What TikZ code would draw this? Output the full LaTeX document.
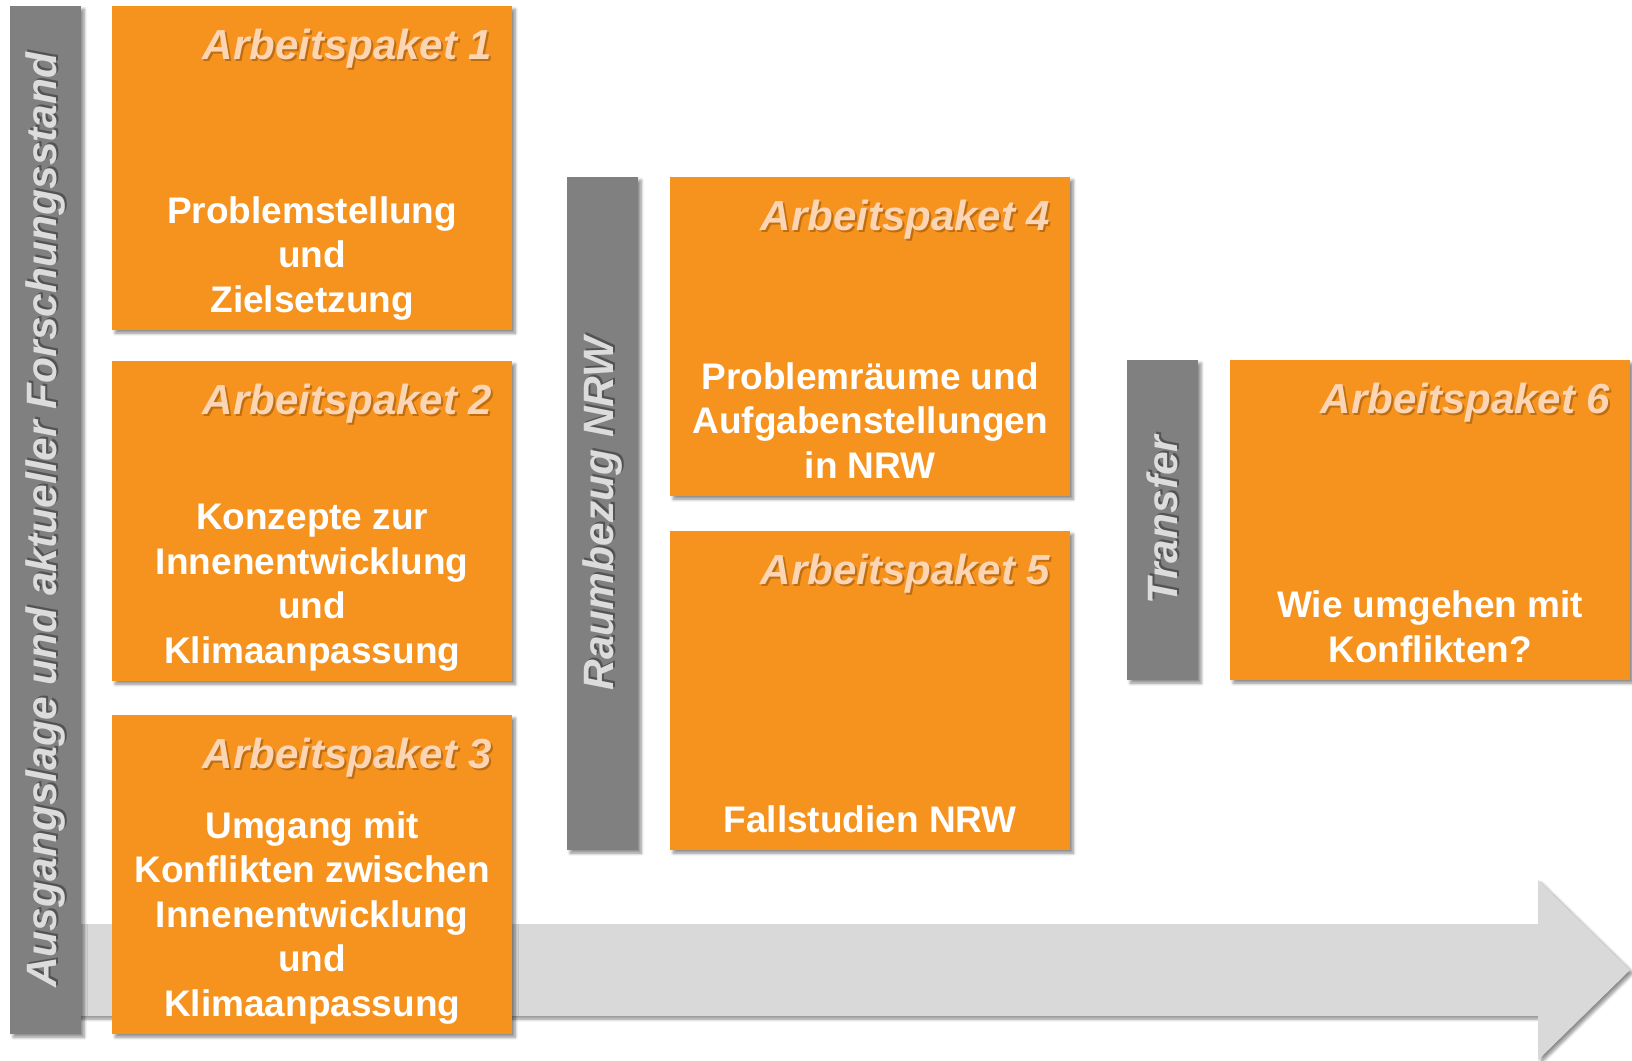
\documentclass[tikz,border=0pt]{standalone}
\usepackage{fontspec}
\setmainfont{Liberation Sans}
\usetikzlibrary{shadows.blur}
\definecolor{apor}{HTML}{F6921E}
\definecolor{bargrey}{HTML}{808080}
\definecolor{arrowgrey}{HTML}{D9D9D9}
\definecolor{ttlcol}{HTML}{FCD6B4}
\definecolor{vtxt}{HTML}{DCDCDC}
\definecolor{shadowbrown}{HTML}{7A4200}
\begin{document}
\begin{tikzpicture}[x=1pt,y=-1pt,
  shad/.style={blur shadow={shadow xshift=3pt,shadow yshift=-3pt,shadow blur steps=6,shadow blur radius=3pt,shadow opacity=45}},
  apbox/.style={fill=apor,anchor=north west,inner sep=0pt,minimum width=400pt,shad},
  barbox/.style={fill=bargrey,anchor=north west,inner sep=0pt,minimum width=71pt,shad},
  ttl/.style={anchor=base east,inner sep=0pt,text=ttlcol,font=\bfseries\itshape\fontsize{42}{50}\selectfont,xshift=-20pt,yshift=-53pt},
  ttlsh/.style={ttl,text=shadowbrown,opacity=0.45,xshift=2pt,yshift=-2pt},
  body/.style={anchor=south,align=center,inner sep=0pt,text=white,text depth=8pt,font=\bfseries\fontsize{37}{44.5}\selectfont,yshift=10pt},
  vlab/.style={rotate=90,inner sep=0pt,text=vtxt,font=\bfseries\itshape\fontsize{42.5}{50}\selectfont},
  vlabsh/.style={vlab,text=black,opacity=0.35,xshift=2pt,yshift=-2pt}]
\useasboundingbox (0,0) rectangle (1632,1060);
% big arrow
\fill[arrowgrey,shad] (60,924) -- (1538,924) -- (1538,880) -- (1630,970) -- (1538,1060) -- (1538,1016) -- (60,1016) -- cycle;
% grey bars
\node[barbox,minimum height=1028pt] (g1) at (10,6) {};
\node[barbox,minimum height=673pt] (g2) at (567,177) {};
\node[barbox,minimum height=320pt] (g3) at (1127,360) {};
\node[vlabsh] (g1s) at (g1.center) {Ausgangslage und aktueller Forschungsstand};
\node[vlab] (g1t) at (g1.center) {Ausgangslage und aktueller Forschungsstand};
\node[vlabsh] (g2s) at (g2.center) {Raumbezug NRW};
\node[vlab] (g2t) at (g2.center) {Raumbezug NRW};
\node[vlabsh] (g3s) at (g3.center) {Transfer};
\node[vlab] (g3t) at (g3.center) {Transfer};
% work packages
\node[apbox,minimum height=324pt] (ap1) at (112,6) {};
\node[apbox,minimum height=320pt] (ap2) at (112,361) {};
\node[apbox,minimum height=319pt] (ap3) at (112,715) {};
\node[apbox,minimum height=319pt] (ap4) at (670,177) {};
\node[apbox,minimum height=319pt] (ap5) at (670,531) {};
\node[apbox,minimum height=320pt] (ap6) at (1230,360) {};
% titles
\node[ttlsh] (t1s) at (ap1.north east) {Arbeitspaket 1};
\node[ttl] (t1) at (ap1.north east) {Arbeitspaket 1};
\node[ttlsh] (t2s) at (ap2.north east) {Arbeitspaket 2};
\node[ttl] (t2) at (ap2.north east) {Arbeitspaket 2};
\node[ttlsh] (t3s) at (ap3.north east) {Arbeitspaket 3};
\node[ttl] (t3) at (ap3.north east) {Arbeitspaket 3};
\node[ttlsh] (t4s) at (ap4.north east) {Arbeitspaket 4};
\node[ttl] (t4) at (ap4.north east) {Arbeitspaket 4};
\node[ttlsh] (t5s) at (ap5.north east) {Arbeitspaket 5};
\node[ttl] (t5) at (ap5.north east) {Arbeitspaket 5};
\node[ttlsh] (t6s) at (ap6.north east) {Arbeitspaket 6};
\node[ttl] (t6) at (ap6.north east) {Arbeitspaket 6};
% body texts
\node[body] (b1) at (ap1.south) {Problemstellung\\und\\Zielsetzung};
\node[body] (b2) at (ap2.south) {Konzepte zur\\Innenentwicklung\\und\\Klimaanpassung};
\node[body] (b3) at (ap3.south) {Umgang mit\\Konflikten zwischen\\Innenentwicklung\\und\\Klimaanpassung};
\node[body] (b4) at (ap4.south) {Problemräume und\\Aufgabenstellungen\\in NRW};
\node[body] (b5) at (ap5.south) {Fallstudien NRW};
\node[body] (b6) at (ap6.south) {Wie umgehen mit\\Konflikten?};
\end{tikzpicture}
\end{document}
